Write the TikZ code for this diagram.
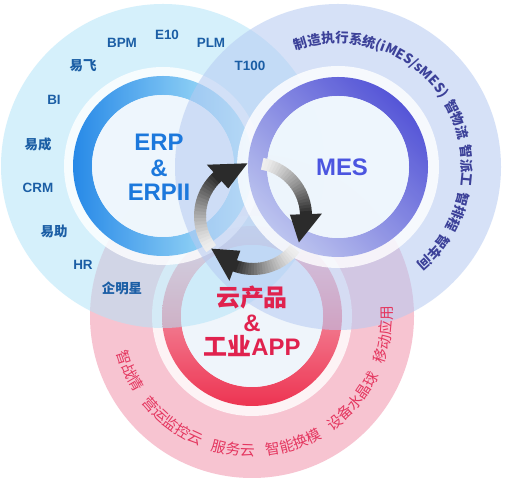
\documentclass[tikz,border=0pt]{standalone}
\usepackage{fontspec}
\setmainfont{Liberation Sans}
\newfontfamily\cjk{Noto Sans CJK SC}
\usetikzlibrary{decorations.text,calc}
\definecolor{bluebg}{HTML}{B3E4F8}
\definecolor{purplebg}{HTML}{B5CAF2}
\definecolor{pinkbg}{HTML}{F294AD}
\definecolor{innerc}{HTML}{EDF6FD}
\definecolor{lblblue}{HTML}{1B5EA5}
\definecolor{erptext}{HTML}{1C78DC}
\definecolor{mestext}{HTML}{4B55E0}
\definecolor{redtext}{HTML}{E0224E}
\definecolor{mesarc}{HTML}{3C4199}
\definecolor{redarc}{HTML}{E4365F}
\definecolor{erpdark}{HTML}{1680E6}
\definecolor{erplight}{HTML}{B4ECFB}
\definecolor{mesdark}{HTML}{4848D4}
\definecolor{meslight}{HTML}{B8C0EE}
\definecolor{reddark}{HTML}{EC2444}
\definecolor{redlight}{HTML}{F7C4D0}
\definecolor{arrowdark}{HTML}{2B2B2B}
\newcommand\cycarrow[3]{%
  \foreach \i in {0,...,23}{%
    \pgfmathsetmacro\aa{#1-(#1-#2)*\i/24}%
    \pgfmathsetmacro\ab{#1-(#1-#2)*(\i+1.2)/24}%
    \pgfmathtruncatemacro\pp{8+92*(\i/23)^1.3}%
    \draw[line width=12, arrowdark!\pp!white] ($(A)+(\aa:53)$) arc[start angle=\aa, end angle=\ab, radius=53];
  }%
  \fill[arrowdark] ($(A)+(#2:69)$) -- ($(A)+(#3:53)$) -- ($(A)+(#2:37)$) -- cycle;
}
\begin{document}
\begin{tikzpicture}[x=1bp,y=1bp,
  outer/.style={fill=#1,fill opacity=0.55},
  halo/.style={fill=white,fill opacity=0.8},
  inner/.style={fill=innerc,fill opacity=0.85},
  lbl/.style={text=lblblue,font=\fontsize{13.5}{15}\selectfont\bfseries,inner sep=0pt},
  clbl/.style={text=lblblue,font=\cjk\fontsize{13.5}{15}\selectfont\bfseries,inner sep=0pt},
  big/.style={font=\fontsize{24}{24}\selectfont\bfseries,inner sep=0pt},
  cbig/.style={font=\cjk\fontsize{24}{24}\selectfont\bfseries,inner sep=0pt}]
\useasboundingbox (0,0) rectangle (506,484);
\fill[white] (0,0) rectangle (506,484);
\coordinate (E) at (163,318);
\coordinate (M) at (338,317);
\coordinate (R) at (252,168);
\coordinate (A) at (253,268);
% red group
\fill[outer=pinkbg] (R) circle[radius=162];
\fill[halo] (R) circle[radius=100];
\shade[top color=redlight, bottom color=reddark, even odd rule, opacity=0.92] (R) circle[radius=90] (R) circle[radius=71];
\fill[inner] (R) circle[radius=71];
% blue group
\fill[outer=bluebg] (E) circle[radius=162];
\fill[halo] (E) circle[radius=99];
\shade[left color=erpdark, right color=erplight, even odd rule, opacity=0.92] (E) circle[radius=90] (E) circle[radius=71];
\fill[inner] (E) circle[radius=71];
% purple group
\fill[outer=purplebg] (M) circle[radius=163];
\fill[halo] (M) circle[radius=101];
\shade[top color=mesdark, bottom color=meslight, shading angle=-45, even odd rule, opacity=0.92] (M) circle[radius=90] (M) circle[radius=71];
\fill[inner] (M) circle[radius=71];
% arrows
\cycarrow{218}{132}{96}
\cycarrow{80}{2}{-30}
\cycarrow{322}{250}{218}
% centre texts
\node[big,text=erptext] (erp) at (159,342) {ERP};
\node[big,text=erptext] (erpamp) at (159,316) {\&};
\node[big,text=erptext] (erp2) at (159,292) {ERPII};
\node[big,text=mestext] (mes) at (342,317) {MES};
\node[cbig,text=redtext] (yun) at (252,186) {云产品};
\node[big,text=redtext] (yunamp) at (252,161) {\&};
\node[big,text=redtext] (app) at (252,138) {{\cjk 工业}APP};
% ERP labels
\node[lbl] (bpm) at (122,441) {BPM};
\node[lbl] (e10) at (167,449) {E10};
\node[lbl] (plm) at (211,441) {PLM};
\node[lbl] (t100) at (250,418) {T100};
\node[clbl] (yifei) at (83,418) {易飞};
\node[lbl] (bi) at (54,384) {BI};
\node[clbl] (yicheng) at (38,340) {易成};
\node[lbl] (crm) at (38,296) {CRM};
\node[clbl] (yizhu) at (54,253) {易助};
\node[lbl] (hr) at (83,219) {HR};
\node[clbl] (qmx) at (122,196) {企明星};
% arc texts
\path[decorate,decoration={text along path,
   text={|\cjk\fontsize{13.5}{13.5}\selectfont\bfseries|制造执行系统(iMES/sMES) 智物流 智派工 智排程 智车间},
   text color=mesarc, text align=fit to path stretching spaces}]
  ($(M)+(110:124)$) arc[start angle=110,end angle=-51,radius=124];
\path[decorate,decoration={text along path,
   text={|\cjk\fontsize{14.8}{14.8}\selectfont|智战情 营运监控云 服务云 智能换模 设备水晶球 移动应用},
   text color=redarc, text align=fit to path stretching spaces}]
  ($(R)+(195:140)$) arc[start angle=195,end angle=364,radius=140];
\end{tikzpicture}
\end{document}
